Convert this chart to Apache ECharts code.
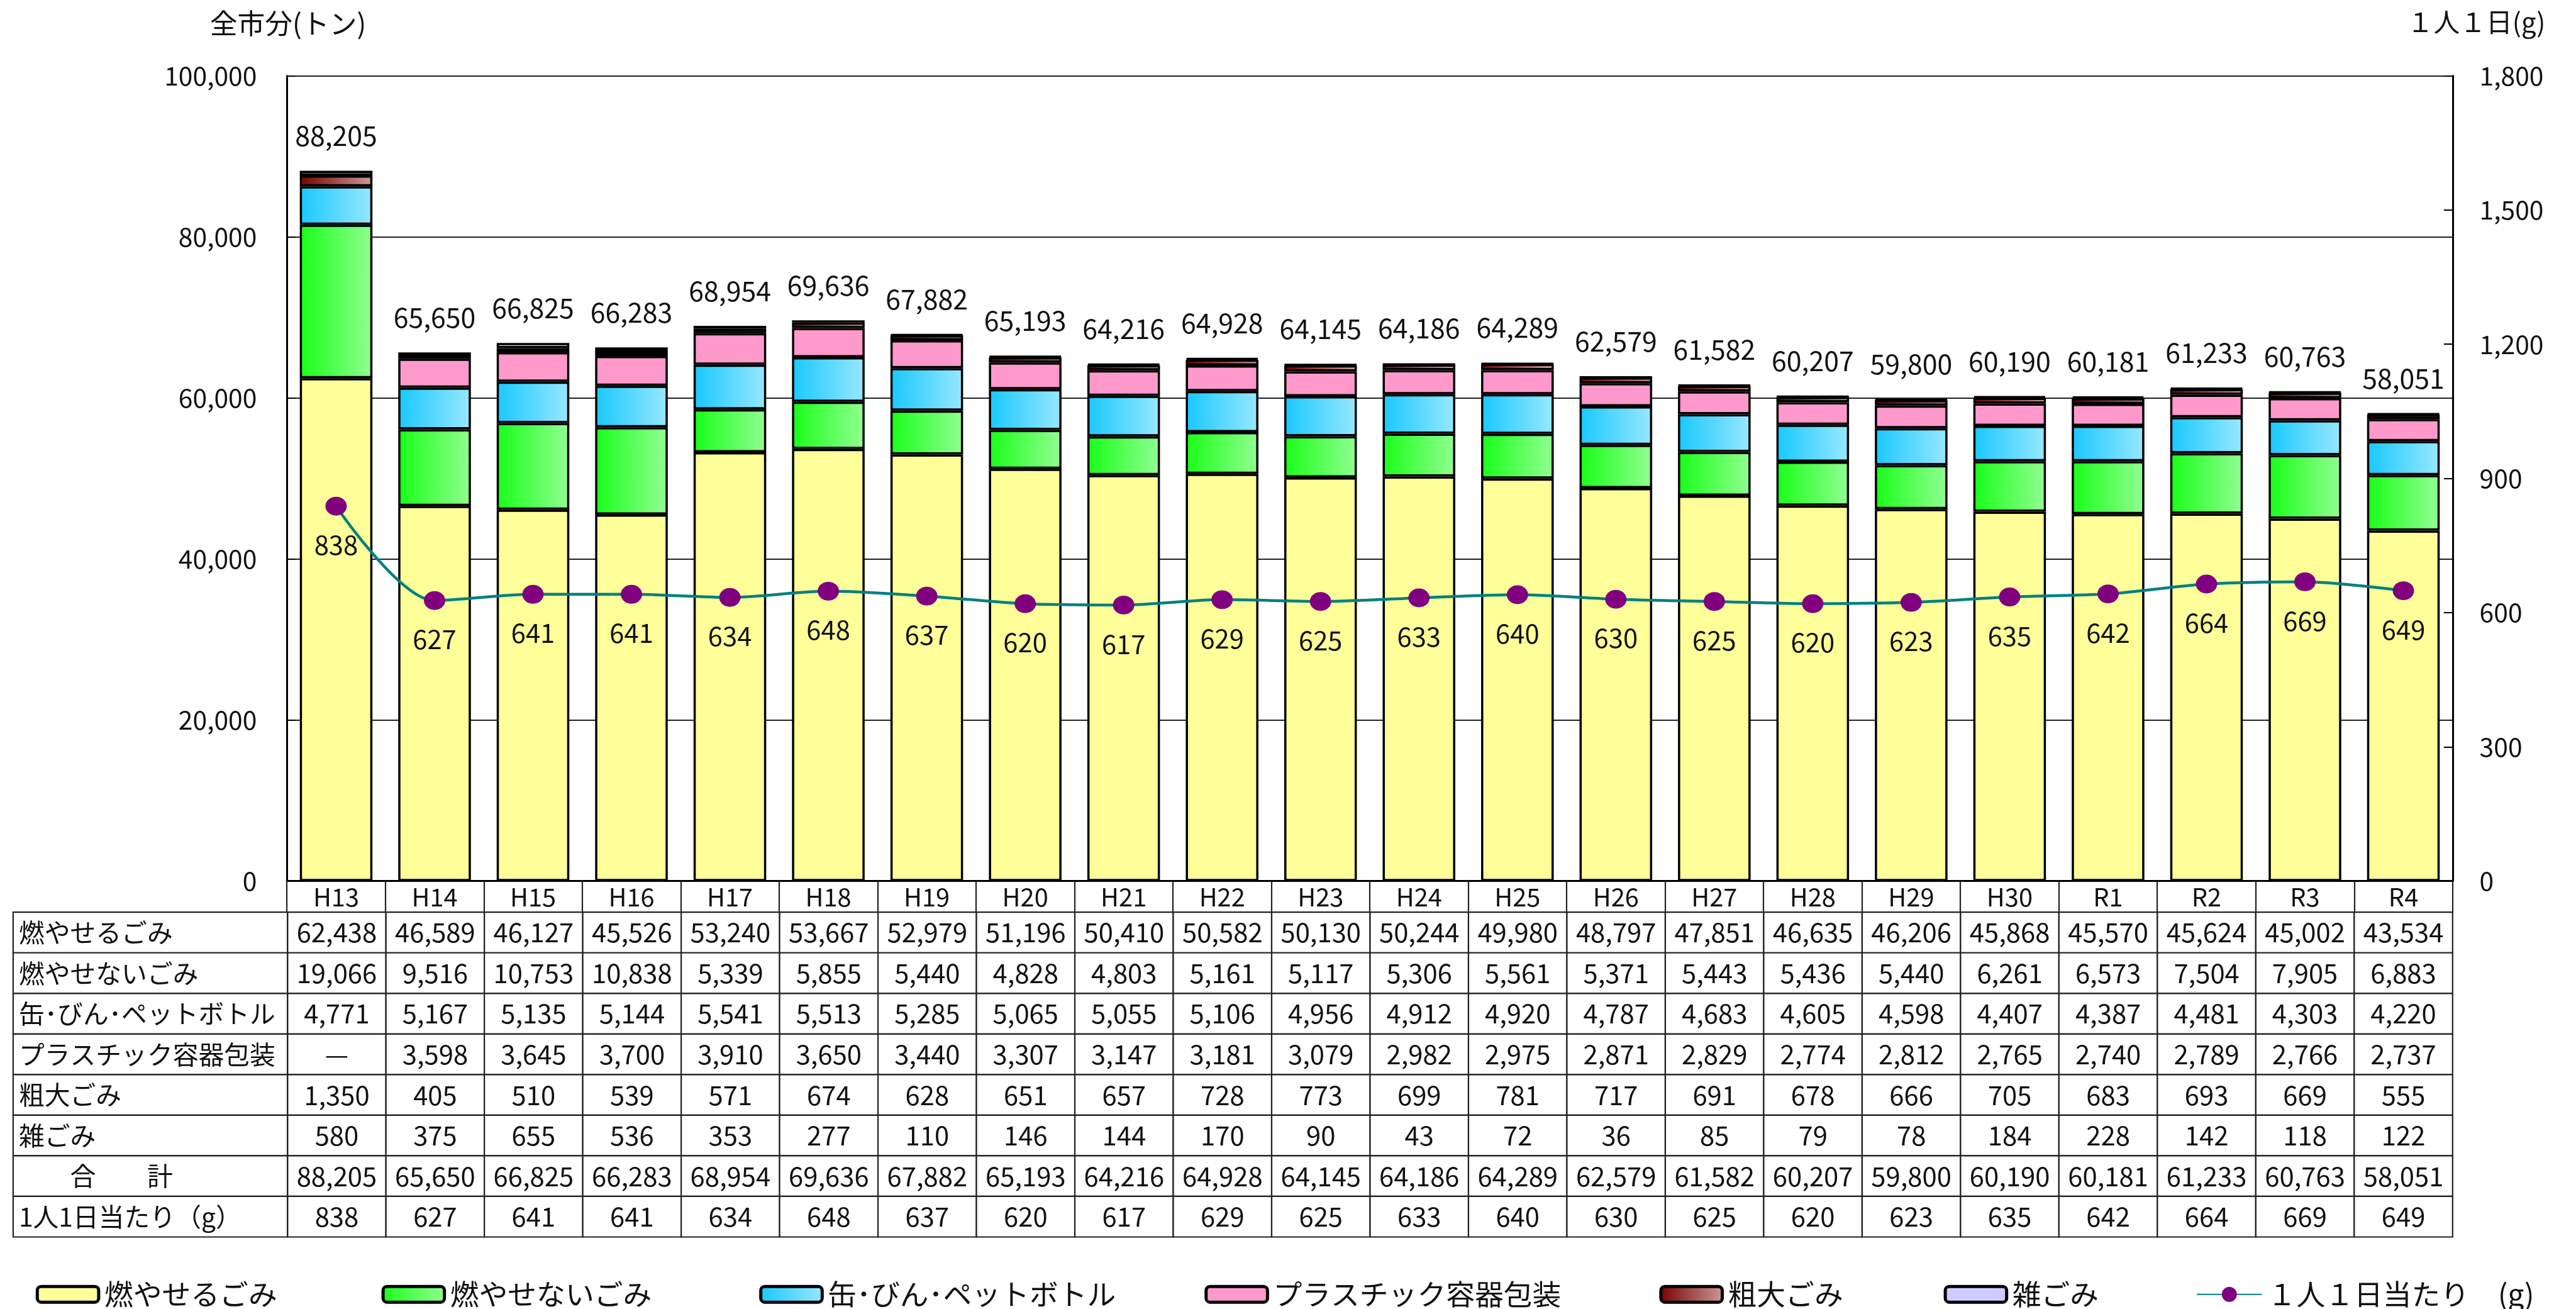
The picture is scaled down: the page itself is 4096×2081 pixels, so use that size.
<!DOCTYPE html>
<html>
<head>
<meta charset="utf-8">
<title>ごみ排出量の推移</title>
<script src="https://cdn.jsdelivr.net/npm/echarts@6/dist/echarts.min.js"></script>
<style>
    html, body { margin: 0; padding: 0; background: #fff; }
    #chart { width: 4096px; height: 2081px; }
</style>
</head>
<body>
<div id="chart"></div>
<script>
    // 年度
    var categories = ['H13', 'H14', 'H15', 'H16', 'H17', 'H18', 'H19', 'H20', 'H21', 'H22', 'H23',
        'H24', 'H25', 'H26', 'H27', 'H28', 'H29', 'H30', 'R1', 'R2', 'R3', 'R4'];

    // 種類別（トン）
    var moyaseru = [62438, 46589, 46127, 45526, 53240, 53667, 52979, 51196, 50410, 50582, 50130,
        50244, 49980, 48797, 47851, 46635, 46206, 45868, 45570, 45624, 45002, 43534];
    var moyasenai = [19066, 9516, 10753, 10838, 5339, 5855, 5440, 4828, 4803, 5161, 5117,
        5306, 5561, 5371, 5443, 5436, 5440, 6261, 6573, 7504, 7905, 6883];
    var kanbin = [4771, 5167, 5135, 5144, 5541, 5513, 5285, 5065, 5055, 5106, 4956,
        4912, 4920, 4787, 4683, 4605, 4598, 4407, 4387, 4481, 4303, 4220];
    var plastic = [null, 3598, 3645, 3700, 3910, 3650, 3440, 3307, 3147, 3181, 3079,
        2982, 2975, 2871, 2829, 2774, 2812, 2765, 2740, 2789, 2766, 2737];
    var sodai = [1350, 405, 510, 539, 571, 674, 628, 651, 657, 728, 773,
        699, 781, 717, 691, 678, 666, 705, 683, 693, 669, 555];
    var zatsu = [580, 375, 655, 536, 353, 277, 110, 146, 144, 170, 90,
        43, 72, 36, 85, 79, 78, 184, 228, 142, 118, 122];
    var totals = [88205, 65650, 66825, 66283, 68954, 69636, 67882, 65193, 64216, 64928, 64145,
        64186, 64289, 62579, 61582, 60207, 59800, 60190, 60181, 61233, 60763, 58051];

    // 1人1日当たり（g）
    var perDay = [838, 627, 641, 641, 634, 648, 637, 620, 617, 629, 625,
        633, 640, 630, 625, 620, 623, 635, 642, 664, 669, 649];

    var barNames = ['燃やせるごみ', '燃やせないごみ', '缶･びん･ペットボトル', 'プラスチック容器包装', '粗大ごみ', '雑ごみ'];
    var lineName = '１人１日当たり　(g)';
    var rowNames = ['燃やせるごみ', '燃やせないごみ', '缶･びん･ペットボトル', 'プラスチック容器包装',
        '粗大ごみ', '雑ごみ', '　　合　　計', '1人1日当たり（g）'];

    var S = 0.996;
    function px(v) { return Math.round(v * S * 10) / 10; }
    var FONT = '"Noto Sans CJK JP", "Noto Sans", sans-serif';

    function fmt(v) {
        if (v == null) return '—';
        return String(v).replace(/\B(?=(\d{3})+(?!\d))/g, ',');
    }
    function grad(a, b) {
        return new echarts.graphic.LinearGradient(0, 0, 1, 0, [
            { offset: 0, color: a }, { offset: 1, color: b }
        ]);
    }

    var barData = [moyaseru, moyasenai, kanbin, plastic, sodai, zatsu];
    var barColors = ['#FFFF99', grad('#18FF18', '#92FF92'), grad('#18C8FF', '#98E8FF'),
        '#FF99CC', grad('#780000', '#CC9A9A'), '#CCCCFF'];
    var tableRows = [moyaseru, moyasenai, kanbin, plastic, sodai, zatsu, totals, perDay];

    var chart = echarts.init(document.getElementById('chart'));

    var series = [];
    barData.forEach(function (d, i) {
        var s = {
            name: barNames[i],
            type: 'bar',
            stack: 'total',
            xAxisIndex: 0,
            yAxisIndex: 0,
            barWidth: px(116),
            itemStyle: { color: barColors[i], borderColor: '#000', borderWidth: px(3.5) },
            data: d
        };
        if (i === barData.length - 1) {
            // 合計を一番上に表示
            s.label = {
                show: true,
                position: 'top',
                distance: px(34),
                fontFamily: FONT,
                fontSize: px(43),
                color: '#111',
                formatter: function (p) { return fmt(totals[p.dataIndex]); }
            };
        }
        series.push(s);
    });

    series.push({
        name: lineName,
        type: 'line',
        xAxisIndex: 0,
        yAxisIndex: 1,
        smooth: 0.3,
        symbol: 'circle',
        symbolSize: [px(34), px(30)],
        itemStyle: { color: '#800080' },
        lineStyle: { color: '#008080', width: px(4.5) },
        label: {
            show: true,
            position: 'bottom',
            distance: px(26),
            fontFamily: FONT,
            fontSize: px(42),
            color: '#111'
        },
        z: 5,
        data: perDay
    });

    // 表のセル
    var cellData = [];
    tableRows.forEach(function (row, ri) {
        row.forEach(function (v, ci) { cellData.push([ci, ri]); });
    });
    var labelData = rowNames.map(function (n, ri) { return [0, ri]; });

    function cellRenderer(getText, leftAlign, size) {
        return function (params, api) {
            var ci = api.value(0), ri = api.value(1);
            var c = api.coord([ci, ri]);
            var sz = api.size([1, 1]);
            var x0 = c[0] - sz[0] / 2, y0 = c[1] - sz[1] / 2;
            return {
                type: 'group',
                children: [{
                    type: 'rect',
                    shape: { x: x0, y: y0, width: sz[0], height: sz[1] },
                    style: { fill: '#fff', stroke: '#222', lineWidth: px(2.2) }
                }, {
                    type: 'text',
                    x: leftAlign ? x0 + px(9) : c[0],
                    y: c[1],
                    style: {
                        text: getText(ci, ri),
                        fontFamily: FONT,
                        fontSize: px(size),
                        fill: '#111',
                        align: leftAlign ? 'left' : 'center',
                        verticalAlign: 'middle'
                    }
                }]
            };
        };
    }

    series.push({
        type: 'custom',
        xAxisIndex: 1,
        yAxisIndex: 2,
        silent: true,
        renderItem: cellRenderer(function (ci, ri) { return fmt(tableRows[ri][ci]); }, false, 42),
        data: cellData
    });
    series.push({
        type: 'custom',
        xAxisIndex: 2,
        yAxisIndex: 3,
        silent: true,
        renderItem: cellRenderer(function (ci, ri) { return rowNames[ri]; }, true, 41),
        data: labelData
    });

    // 凡例（項目ごとに配置）
    var legendX = [52, 604, 1207, 1918, 2644, 3098, 3501];
    var legends = barNames.concat([lineName]).map(function (n, i) {
        var lg = {
            data: [n],
            left: px(legendX[i]),
            top: px(2038),
            itemWidth: px(98),
            itemHeight: px(25),
            itemGap: 0,
            selectedMode: false,
            textStyle: { fontFamily: FONT, fontSize: px(46), color: '#111', padding: [0, 0, 0, px(4)] }
        };
        if (i < barNames.length) {
            lg.itemStyle = { borderColor: '#000', borderWidth: px(5) };
        } else {
            lg.itemWidth = px(104);
            lg.itemHeight = px(30);
        }
        return lg;
    });

    var options = {
        animation: false,
        backgroundColor: '#fff',
        textStyle: { fontFamily: FONT },
        title: [{
            text: '全市分(トン)',
            left: px(335),
            top: px(16),
            padding: 0,
            textStyle: { fontFamily: FONT, fontSize: px(44), fontWeight: 'normal', color: '#111' }
        }, {
            text: '１人１日(g)',
            left: px(3843),
            top: px(14),
            padding: 0,
            textStyle: { fontFamily: FONT, fontSize: px(42), fontWeight: 'normal', color: '#111' }
        }],
        legend: legends,
        grid: [
            { left: px(458), right: px(197), top: px(121), bottom: px(683) },
            { left: px(459), right: px(197), top: px(1456), bottom: px(115) },
            { left: px(21), width: px(438), top: px(1456), bottom: px(115) }
        ],
        xAxis: [{
            type: 'category',
            gridIndex: 0,
            data: categories,
            axisLine: { lineStyle: { color: '#000', width: px(3) } },
            axisTick: { show: true, interval: 0, length: px(51), lineStyle: { color: '#222', width: px(2.2) } },
            axisLabel: {
                interval: 0,
                margin: px(25.5),
                verticalAlign: 'middle',
                fontFamily: FONT,
                fontSize: px(40),
                color: '#111'
            }
        }, {
            type: 'category',
            gridIndex: 1,
            data: categories,
            show: false
        }, {
            type: 'category',
            gridIndex: 2,
            data: ['項目'],
            show: false
        }],
        yAxis: [{
            type: 'value',
            gridIndex: 0,
            min: 0,
            max: 100000,
            interval: 20000,
            axisLine: { show: true, lineStyle: { color: '#000', width: px(3) } },
            axisTick: { show: true, inside: true, length: px(14), lineStyle: { color: '#000', width: px(2) } },
            axisLabel: { margin: px(48), fontFamily: FONT, fontSize: px(41), color: '#111', formatter: fmt },
            splitLine: { show: true, lineStyle: { color: '#222', width: px(2.2) } }
        }, {
            type: 'value',
            gridIndex: 0,
            position: 'right',
            min: 0,
            max: 1800,
            interval: 300,
            axisLine: { show: true, lineStyle: { color: '#000', width: px(3) } },
            axisTick: { show: true, inside: true, length: px(14), lineStyle: { color: '#000', width: px(2) } },
            axisLabel: { margin: px(43), fontFamily: FONT, fontSize: px(41), color: '#111', formatter: fmt },
            splitLine: { show: false }
        }, {
            type: 'category',
            gridIndex: 1,
            inverse: true,
            data: rowNames.map(function (n, i) { return i; }),
            show: false
        }, {
            type: 'category',
            gridIndex: 2,
            inverse: true,
            data: rowNames.map(function (n, i) { return i; }),
            show: false
        }],
        series: series
    };

    chart.setOption(options);
</script>
</body>
</html>
